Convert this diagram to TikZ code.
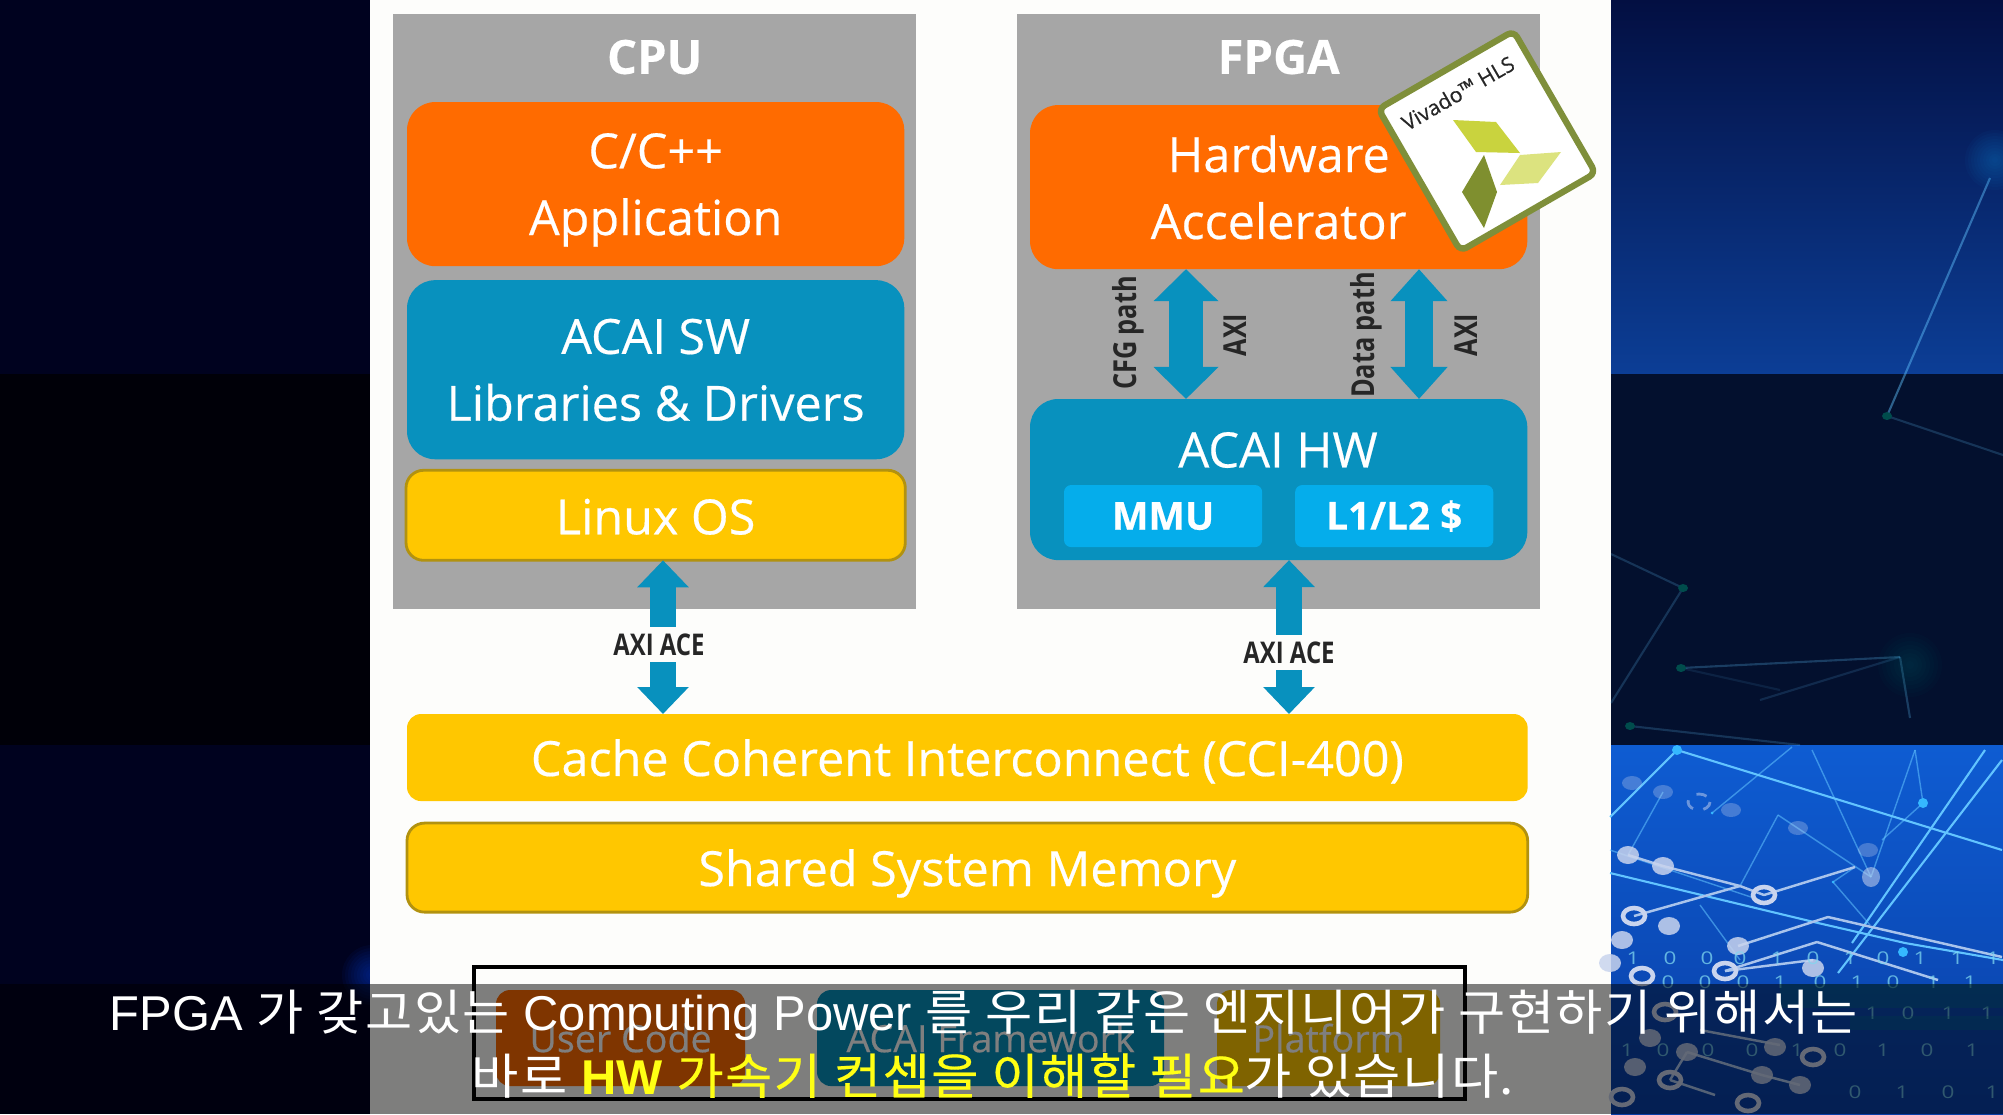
\documentclass[tikz,border=0pt]{standalone}
\usepackage{fontspec}
\setmainfont[FakeBold=0.4]{Open Sans}
\newfontfamily\slimfont[FakeStretch=0.8]{Open Sans}
\newfontfamily\capfont{Liberation Sans}
\newfontfamily\cjkfont[LetterSpace=3,FakeStretch=1.05]{Noto Sans CJK KR}
\newfontfamily\cjkmark[LetterSpace=3,FakeStretch=1.05,FakeBold=0.4]{Noto Sans CJK KR}
\usetikzlibrary{arrows.meta,positioning,calc}
\definecolor{deskgrey}{HTML}{A6A6A6}
\definecolor{slidewhite}{HTML}{FDFDFB}
\definecolor{apporange}{HTML}{FF6B00}
\definecolor{acaiblue}{HTML}{0891BE}
\definecolor{cacheblue}{HTML}{05ADEB}
\definecolor{busyellow}{HTML}{FFC700}
\definecolor{goldline}{HTML}{B2920F}
\definecolor{navyleft}{HTML}{00021F}
\definecolor{blackleft}{HTML}{000008}
\definecolor{nightblue}{HTML}{03102E}
\definecolor{topblue}{HTML}{030F42}
\definecolor{midblue}{HTML}{0C3E96}
\definecolor{lowblue}{HTML}{0E5CD2}
\definecolor{lowdeep}{HTML}{0A3FA6}
\definecolor{netline}{HTML}{62C4FF}
\definecolor{netpale}{HTML}{A9C4EC}
\definecolor{netdot}{HTML}{C9D4EE}
\definecolor{netcyan}{HTML}{35B8FF}
\definecolor{bitcyan}{HTML}{7FD8F0}
\definecolor{olive}{HTML}{7F8F3A}
\definecolor{leafa}{HTML}{C9D33E}
\definecolor{leafb}{HTML}{DCE37F}
\definecolor{leafc}{HTML}{7F8F2F}
\definecolor{subyellow}{HTML}{FFFF14}

\begin{document}
\begin{tikzpicture}[
  x=0.01cm, y=-0.01cm,
  panel/.style={rectangle, fill=deskgrey, minimum width=5.23cm, minimum height=5.95cm,
                anchor=north west, outer sep=0pt, inner sep=0pt},
  tier/.style={rectangle, rounded corners=8pt, minimum width=4.97cm, outer sep=0pt, align=center,
               text depth=0pt, text=white, font=\fontsize{13.8}{19}\selectfont},
  softbox/.style={tier, fill=apporange, minimum height=1.64cm},
  hwbox/.style={tier, fill=acaiblue},
  goldbox/.style={tier, fill=busyellow, draw=goldline, line width=0.8pt, rounded corners=5pt},
  busbar/.style={tier, fill=busyellow, rounded corners=4pt, minimum height=0.87cm},
  cachebox/.style={rectangle, rounded corners=2pt, fill=cacheblue, minimum width=1.98cm, minimum height=0.62cm,
                   text=white, outer sep=0pt, font=\fontsize{11}{13}\selectfont\bfseries},
  cfgbus/.style={{Triangle[length=3.2mm,width=6.3mm]}-{Triangle[length=3.2mm,width=6.3mm]},
                 line width=3.4mm, color=acaiblue},
  databus/.style={{Triangle[length=3.2mm,width=5.5mm]}-{Triangle[length=3.2mm,width=5.5mm]},
                  line width=2.8mm, color=acaiblue},
  acebus/.style={{Triangle[length=2.7mm,width=5mm]}-{Triangle[length=2.7mm,width=5mm]},
                 line width=2.6mm, color=acaiblue},
  buslabel/.style={font=\slimfont\fontsize{9}{11}\selectfont\bfseries, color=black!85, inner sep=1pt},
  acelabel/.style={font=\slimfont\fontsize{8.5}{10}\selectfont\bfseries, color=black!85,
                   fill=slidewhite, minimum height=0.35cm, inner sep=0.5pt},
  title/.style={font=\fontsize{13.4}{16}\selectfont\bfseries, text=white, inner sep=0pt},
  groupbox/.style={rectangle, rounded corners=4pt, minimum height=0.96cm, outer sep=0pt,
                   text=white, font=\fontsize{10.7}{13}\selectfont},
  bit/.style={font=\slimfont\fontsize{5}{6}\selectfont, text=bitcyan, text opacity=.75, inner sep=0pt, xscale=1.6},
  subline/.style={font=\capfont\fontsize{13.9}{16}\selectfont, text=white, inner sep=0pt},
  netbright/.style={netline, line width=0.6pt},
  netthin/.style={netline, line width=0.4pt, opacity=.55},
  netsoft/.style={netpale, line width=0.7pt},
]
  \useasboundingbox (0,0) rectangle (2003,1114);

  % backdrop bands
  \fill[navyleft] (0,0) rectangle (370,374);
  \fill[blackleft] (0,374) rectangle (370,745);
  \fill[navyleft] (0,745) rectangle (370,1114);
  \foreach \r in {3,6,...,30}
    \fill[blue!70!cyan, opacity=.05] (372,975) circle (\r);
  \fill[top color=topblue, bottom color=midblue] (1611,0) rectangle (2003,374);
  \fill[nightblue] (1611,374) rectangle (2003,745);
  \fill[top color=lowblue, bottom color=lowdeep] (1611,745) rectangle (2003,1114);
  \fill[slidewhite] (370,0) rectangle (1611,1114);

  % network, upper bands
  \foreach \ax/\ay/\bx/\by/\op in {
      1990/178/1887/416/.45, 1887/416/2003/455/.2,
      1683/588/1611/554/.2, 1683/588/1611/703/.2, 1681/668/1900/657/.25, 1900/657/1910/718/.25,
      1681/668/1780/690/.1, 1900/657/1760/700/.15, 1630/726/1800/745/.2}
    \draw[netline, opacity=\op, line width=0.6pt] (\ax,\ay) -- (\bx,\by);
  \foreach \r in {3,6,...,30}
    \fill[cyan!60!blue, opacity=.05] (1995,160) circle (\r);
  \foreach \r in {4,8,...,32}
    \fill[teal, opacity=.03] (1910,665) circle (\r);
  \foreach \px/\py in {1887/416, 1683/588, 1681/668, 1630/726}
    \fill[teal!60!black] (\px,\py) ellipse (5 and 4);

  % network, lower band
  \foreach \ax/\ay/\bx/\by in {1610/817/1677/750, 1677/750/2002/850, 2002/760/1838/973, 1985/750/1852/943,
      1610/873/1818/923, 1818/923/1905/943, 1905/943/2003/960}
    \draw[netbright] (\ax,\ay) -- (\bx,\by);
  \foreach \ax/\ay/\bx/\by in {1915/750/1923/803, 1923/803/1882/840, 1871/877/1915/750, 1871/877/1778/815,
      1871/877/1812/750, 1712/813/1792/747, 1628/855/1663/792, 1740/886/1778/815, 1855/867/1833/882,
      1833/882/1870/925, 1700/905/1740/960, 1610/850/1760/900}
    \draw[netthin] (\ax,\ay) -- (\bx,\by);
  \foreach \ax/\ay/\bx/\by in {1628/855/1663/866, 1663/866/1740/886, 1740/886/1764/895, 1764/895/1855/867,
      1634/916/1740/886, 1738/946/1828/917, 1828/917/2002/957, 1725/971/1817/942, 1817/942/1938/980,
      1725/971/1813/960, 1687/1052/1762/1075, 1670/1080/1715/1095, 1670/1080/1687/1052, 1762/1075/1800/1085,
      1700/1030/1780/1045}
    \draw[netsoft] (\ax,\ay) -- (\bx,\by);
  \foreach \px/\py in {1632/783, 1663/792, 1731/810, 1798/828, 1868/850}
    \fill[netdot, opacity=.3] (\px,\py) ellipse (10 and 7);
  \foreach \px/\py in {1628/855, 1663/866, 1669/926, 1622/940, 1738/946, 1813/968, 1610/963, 1650/1038,
      1687/1052, 1635/1067, 1775/1047, 1762/1075, 1800/1085}
    \fill[netdot, opacity=.85] (\px,\py) ellipse (11 and 9);
  \fill[netdot, opacity=.55] (1871,877) ellipse (9 and 10);
  \foreach \px/\py in {1764/895, 1634/916, 1725/971, 1642/976, 1813/1057, 1670/1080, 1622/1097, 1748/1103, 1665/1012}
    \draw[netdot, line width=1.3pt] (\px,\py) ellipse (11 and 8);
  \draw[netdot, dashed, opacity=.5, line width=0.8pt] (1699,802) ellipse (11 and 8);
  \foreach \px/\py in {1677/750, 1923/803, 1903/952}
    \fill[netcyan] (\px,\py) ellipse (5 and 5);
  \foreach \px/\py in {1712/813, 1833/882}
    \fill[netcyan] (\px,\py) circle (1.5);
  \foreach \i/\px/\b in {0/1633/1,1/1670/0,2/1707/0,3/1740/0,4/1777/1,5/1813/0,6/1850/1,7/1883/0,8/1920/1,9/1957/1,10/1993/1}
    \node[bit] (bita\i) at (\px,958) {\b};
  \foreach \i/\px/\b in {0/1668/0,1/1705/0,2/1743/0,3/1780/1,4/1820/0,5/1857/1,6/1893/0,7/1933/1,8/1970/1}
    \node[bit] (bitb\i) at (\px,982) {\b};
  \foreach \i/\px/\b in {0/1872/1,1/1908/0,2/1948/1,3/1987/1}
    \node[bit] (bitc\i) at (\px,1013) {\b};
  \foreach \i/\px/\b in {0/1627/1,1/1663/0,2/1708/0,3/1752/0,4/1797/1,5/1840/0,6/1883/1,7/1927/0,8/1972/1}
    \node[bit] (bitd\i) at (\px,1050) {\b};
  \foreach \i/\px/\b in {0/1855/0,1/1902/1,2/1948/0,3/1992/1}
    \node[bit] (bite\i) at (\px,1092) {\b};

  % CPU side
  \node[panel] (cpu) at (393,14) {};
  \node[title, below=0.25cm of cpu.north] (cputitle) {CPU};
  \node[softbox, below=0.88cm of cpu.north, xshift=0.01cm] (app) {C/C++\\Application};
  \node[hwbox, minimum height=1.79cm, below=0.14cm of app] (acaisw) {ACAI SW\\Libraries \& Drivers};
  \node[goldbox, minimum height=0.9cm, minimum width=4.99cm, below=0.11cm of acaisw] (linux) {\raisebox{-0.7pt}{Linux OS}};

  % FPGA side
  \node[panel] (fpga) at (1017,14) {};
  \node[title, below=0.25cm of fpga.north] (fpgatitle) {FPGA};
  \node[softbox, below=0.91cm of fpga.north] (hwacc) {Hardware\\Accelerator};
  \node[hwbox, minimum height=1.61cm, anchor=north] (acaihw) at (hwacc.south |- 0,399) {};
  \node[cachebox, anchor=south west] (mmu) at ([xshift=0.34cm,yshift=0.13cm]acaihw.south west) {MMU};
  \node[cachebox, right=0.33cm of mmu] (cache) {L1/L2 \$};
  \node[text=white, font=\fontsize{13.9}{16}\selectfont, inner sep=0pt] (hwtitle) at (1278,450) {ACAI HW};

  % paths inside the FPGA
  \coordinate (cfg) at (1186,335);
  \coordinate (data) at (1419,335);
  \draw[cfgbus] (cfg |- hwacc.south) -- (cfg |- acaihw.north);
  \draw[databus] (data |- hwacc.south) -- (data |- acaihw.north);
  \node[buslabel, rotate=90] (cfglabel) at (1128,333) {CFG path};
  \node[buslabel, rotate=90] (cfgaxi) at (1235,335) {AXI};
  \node[buslabel, rotate=90] (datalabel) at (1366,335) {Data path};
  \node[buslabel, rotate=90] (dataaxi) at (1466,335) {AXI};

  % shared parts
  \node[busbar, minimum width=11.2cm, anchor=north west] (cci) at (407,714) {Cache Coherent Interconnect (CCI-400)};
  \node[goldbox, minimum width=11.2cm, minimum height=0.89cm, below=0.22cm of cci] (memory) {Shared System Memory};

  \coordinate (aceleft) at (663,640);
  \coordinate (aceright) at (1289,640);
  \draw[acebus] (aceleft |- linux.south) -- node[acelabel, pos=0.55, xshift=-0.04cm] (aceleftlabel) {AXI ACE} (aceleft |- cci.north);
  \draw[acebus] (aceright |- acaihw.south) -- node[acelabel, pos=0.6] (acerightlabel) {AXI ACE} (aceright |- cci.north);

  % Vivado badge
  \node[rectangle, rotate=30, fill=white, draw=olive, line width=1.8pt, rounded corners=2pt,
        minimum width=1.56cm, minimum height=1.64cm] (badge) at (1487,141) {};
  \node[rotate=30, font=\fontsize{6}{7}\selectfont, text=black!85, inner sep=0pt] (badgetext) at (1458,93) {Vivado™ HLS};
  \fill[leafa] (1453,120) -- (1496,122) -- (1520,153) -- (1476,152) -- cycle;
  \fill[leafb] (1520,155) -- (1561,152) -- (1538,183) -- (1500,185) -- cycle;
  \fill[leafc] (1484,155) -- (1497,192) -- (1484,228) -- (1462,192) -- cycle;

  % legend under the caption
  \draw[black, line width=1.1pt] (474,967) rectangle (1465,1099);
  \node[groupbox, fill=apporange, minimum width=2.49cm, anchor=north west] (usercode) at (496,990) {User Code};
  \node[groupbox, fill=acaiblue, minimum width=3.47cm, anchor=north west] (framework) at (817,990) {ACAI Framework};
  \node[groupbox, fill=busyellow, minimum width=2.23cm, anchor=north west] (platform) at (1217,990) {Platform};

  % caption
  \fill[teal, opacity=.3] (1780,984) rectangle (2003,1008);
  \fill[teal, opacity=.25] (1850,1016) rectangle (2003,1030);
  \fill[black, opacity=.5] (0,984) rectangle (2003,1114);
  \node[subline, anchor=base] (subone) at (984,1030)
    {FPGA {\cjkfont 가 갖고있는} Computing Power {\cjkfont 를 우리 같은 엔지니어가 구현하기 위해서는}};
  \node[subline, anchor=base] (subtwo) at (993,1094)
    {{\cjkfont 바로} \textcolor{subyellow}{{\bfseries HW} {\cjkmark 가속기 컨셉을 이해할 필요}}{\cjkfont 가 있습니다.}};
\end{tikzpicture}
\end{document}
